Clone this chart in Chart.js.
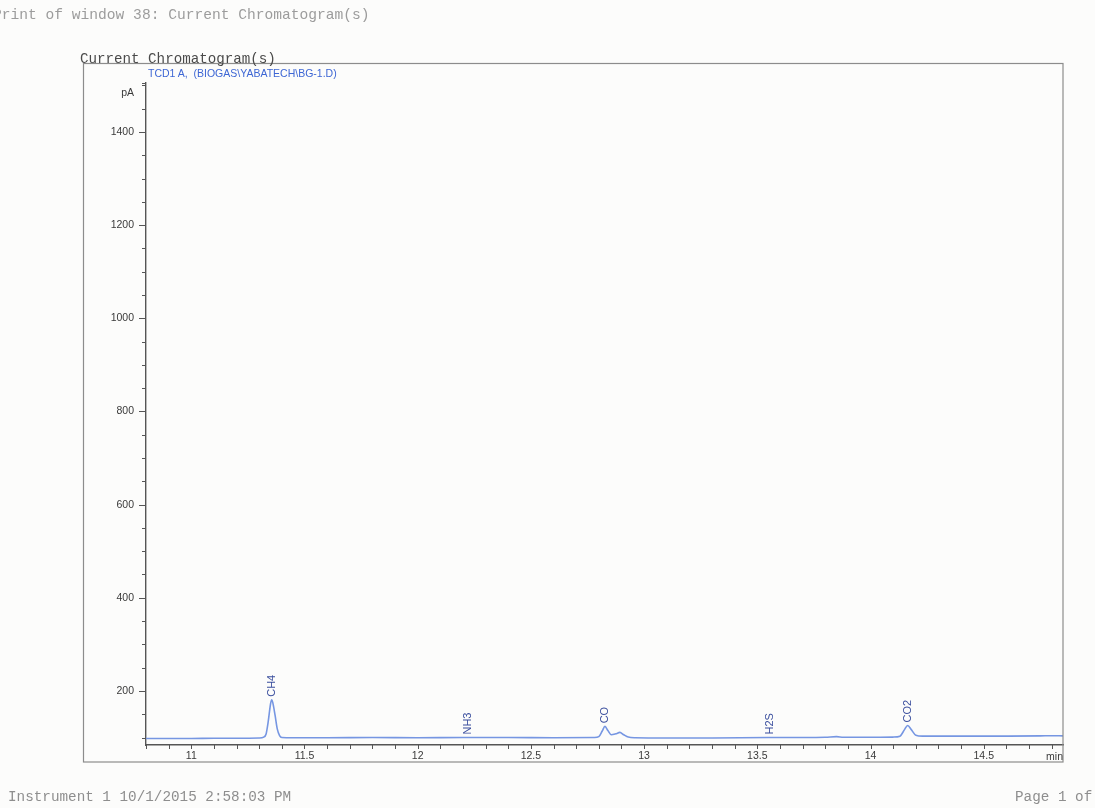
<!DOCTYPE html>
<html>
<head>
<meta charset="utf-8">
<script src="https://cdn.jsdelivr.net/npm/chart.js@4"></script>
<style>
  html, body { margin: 0; padding: 0; background: #fcfcfb; }
  #wrap { position: relative; width: 1095px; height: 808px; overflow: hidden; }
  #chart { position: absolute; left: 0; top: 0; }
  .mono { position: absolute; font-family: "Liberation Mono", monospace; white-space: pre; line-height: 16px; }
  .sig { position: absolute; font-family: "Liberation Sans", Arial, sans-serif; font-size: 10.5px; line-height: 14px; color: #3d66d4; white-space: pre; }
</style>
</head>
<body>
<div id="wrap">
  <canvas id="chart" width="1095" height="808"></canvas>
  <div class="mono" style="left:-7px;top:7px;font-size:14.6px;color:#9c9c9c">Print of window 38: Current Chromatogram(s)</div>
  <div class="mono" style="left:80px;top:51px;font-size:14.2px;color:#4a4a4a">Current Chromatogram(s)</div>
  <div class="sig" style="left:148px;top:66px">TCD1 A,  (BIOGAS\YABATECH\BG-1.D)</div>
  <div class="mono" style="left:8px;top:789px;font-size:14.3px;color:#8e8e8e">Instrument 1 10/1/2015 2:58:03 PM</div>
  <div class="mono" style="left:1015px;top:789px;font-size:14.3px;color:#8e8e8e">Page 1 of</div>
</div>
<script>
// retention time (min) and detector signal (pA)
const times = [10.80, 10.90, 11.00, 11.10, 11.20, 11.30, 11.32, 11.33, 11.34, 11.35,
  11.355, 11.36, 11.37, 11.38, 11.39, 11.40, 11.45, 11.60, 11.80, 12.00,
  12.20, 12.40, 12.60, 12.78, 12.80, 12.815, 12.827, 12.84, 12.855, 12.875,
  12.893, 12.91, 12.93, 12.96, 13.10, 13.30, 13.55, 13.70, 13.80, 13.85,
  13.88, 14.00, 14.10, 14.13, 14.15, 14.164, 14.18, 14.20, 14.23, 14.40,
  14.60, 14.75, 14.80, 14.85];
const signal = [98, 98, 98, 98.5, 98.5, 99, 101, 107, 135, 172,
  181, 175, 148, 118, 104, 100, 99.5, 99.5, 100, 99.5,
  100, 100, 99.5, 100, 102, 114, 124, 115, 106, 108,
  111, 106, 101, 99.5, 99, 99, 100, 100, 100.5, 102,
  100.5, 100.5, 101, 103, 117, 126, 117, 105, 103, 103,
  103, 103.5, 104, 103.5];

// named peaks
const peakNames = ['CH4', 'NH3', 'CO', 'H2S', 'CO2'];
const peakTimes = [11.355, 12.22, 12.827, 13.557, 14.164];

const xMin = 10.80, xMax = 14.85;
const yMin = 84, yMax = 1505;

const points = times.map((t, i) => ({ x: t, y: signal[i] }));

const isMult = (v, m) => Math.abs(v / m - Math.round(v / m)) < 1e-6;

const decor = {
  id: 'decor',
  afterDraw(chart) {
    const ctx = chart.ctx;
    const x = chart.scales.x, y = chart.scales.y;
    const area = chart.chartArea;
    ctx.save();

    // outer frame
    ctx.strokeStyle = '#8c8c8c';
    ctx.lineWidth = 1.2;
    ctx.strokeRect(83.5, 63.5, area.right - 83.5, 762 - 63.5);

    // y tick marks
    ctx.strokeStyle = '#555';
    ctx.lineWidth = 1;
    y.ticks.forEach(t => {
      const py = Math.round(y.getPixelForValue(t.value)) + 0.5;
      const len = isMult(t.value, 200) ? 7 : 4;
      ctx.beginPath();
      ctx.moveTo(area.left - len, py);
      ctx.lineTo(area.left, py);
      ctx.stroke();
    });
    ctx.beginPath();
    ctx.moveTo(area.left - 4, area.top + 0.5);
    ctx.lineTo(area.left, area.top + 0.5);
    ctx.stroke();

    // x tick marks
    x.ticks.forEach(t => {
      const px = Math.round(x.getPixelForValue(t.value)) + 0.5;
      ctx.beginPath();
      ctx.moveTo(px, area.bottom);
      ctx.lineTo(px, area.bottom + 4);
      ctx.stroke();
    });

    // units
    ctx.fillStyle = '#3a3a3a';
    ctx.font = '10.5px "Liberation Sans", Arial, sans-serif';
    ctx.textAlign = 'right';
    ctx.textBaseline = 'middle';
    ctx.fillText('pA', area.left - 12, area.top + 10);
    ctx.fillText('min', area.right, area.bottom + 12);

    // peak names, rotated, just above the trace
    ctx.fillStyle = '#3b4f9e';
    ctx.font = '11px "Liberation Sans", Arial, sans-serif';
    ctx.textAlign = 'left';
    peakNames.forEach((name, i) => {
      const t = peakTimes[i];
      let v = -Infinity;
      times.forEach((tt, j) => { if (Math.abs(tt - t) <= 0.012) v = Math.max(v, signal[j]); });
      if (v === -Infinity) v = signal[times.reduce((b, tt, j) => Math.abs(tt - t) < Math.abs(times[b] - t) ? j : b, 0)];
      const px = x.getPixelForValue(t);
      const py = y.getPixelForValue(v) - 3;
      ctx.save();
      ctx.translate(px, py);
      ctx.rotate(-Math.PI / 2);
      ctx.fillText(name, 0, 0);
      ctx.restore();
    });
    ctx.restore();
  }
};

new Chart(document.getElementById('chart'), {
  type: 'line',
  data: {
    datasets: [{
      label: 'TCD1 A',
      data: points,
      borderColor: 'rgb(118, 150, 226)',
      borderWidth: 1.6,
      pointRadius: 0,
      fill: false,
      cubicInterpolationMode: 'monotone',
    }],
  },
  options: {
    responsive: false,
    animation: false,
    layout: { padding: { top: 83, right: 32, left: 0, bottom: 0 } },
    plugins: { legend: { display: false }, tooltip: { enabled: false } },
    scales: {
      x: {
        type: 'linear',
        min: xMin,
        max: xMax,
        afterFit: s => { s.height = 63; },
        grid: { display: false, drawTicks: false },
        border: { display: true, color: '#555', width: 1.4 },
        ticks: {
          stepSize: 0.1,
          includeBounds: false,
          autoSkip: false,
          maxRotation: 0,
          padding: 5,
          color: '#3a3a3a',
          font: { family: '"Liberation Sans", Arial, sans-serif', size: 10.5 },
          callback: v => isMult(v, 0.5) ? String(Math.round(v * 10) / 10) : '',
        },
      },
      y: {
        min: yMin,
        max: yMax,
        afterFit: s => { s.width = 146; },
        grid: { display: false, drawTicks: false },
        border: { display: true, color: '#555', width: 1.4 },
        ticks: {
          stepSize: 50,
          includeBounds: false,
          autoSkip: false,
          padding: 12,
          color: '#3a3a3a',
          font: { family: '"Liberation Sans", Arial, sans-serif', size: 10.5 },
          callback: v => isMult(v, 200) ? String(v) : '',
        },
      },
    },
  },
  plugins: [decor],
});
</script>
</body>
</html>
